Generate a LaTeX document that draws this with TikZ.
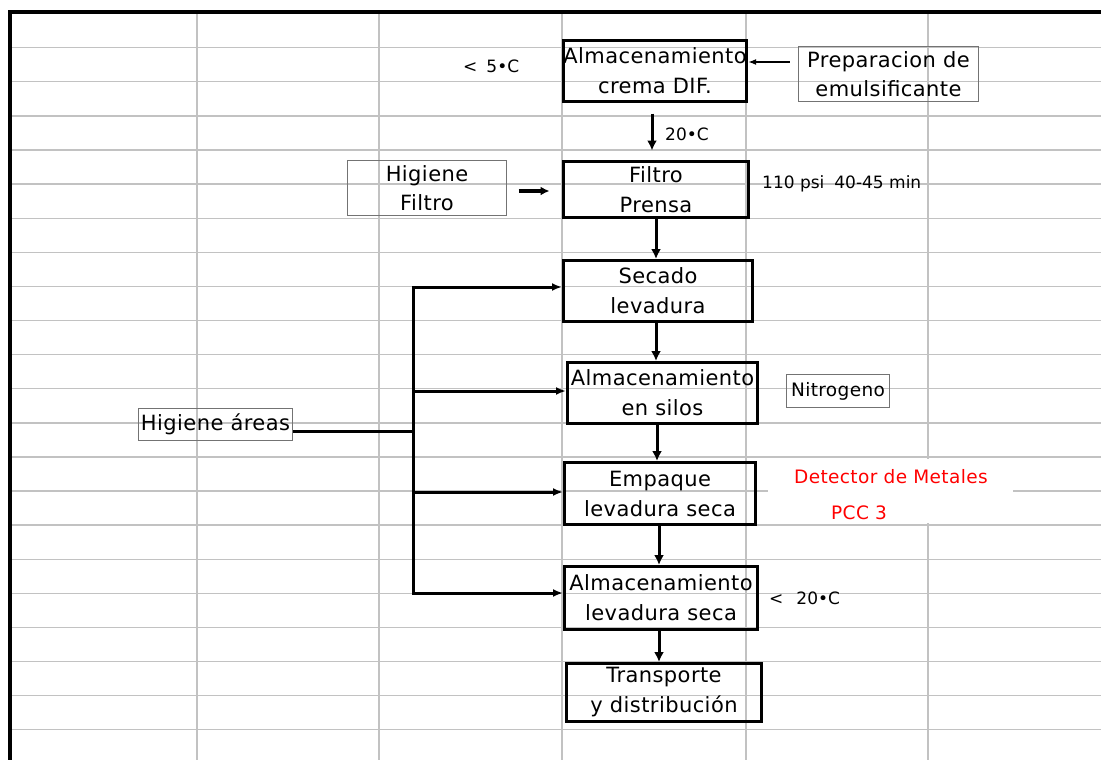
\documentclass[tikz,border=0pt]{standalone}
\usepackage{fontspec}
\setmainfont{DejaVu Sans}
\newfontfamily\boxfont[LetterSpace=2]{DejaVu Sans}
\newfontfamily\notefont{DejaVu Sans}
\newfontfamily\redfont[LetterSpace=2]{DejaVu Sans}
\usetikzlibrary{arrows.meta}

\begin{document}
\begin{tikzpicture}[x=1pt,y=-1pt,
  gridline/.style={draw=black!24, line width=1.4pt},
  stepbox/.style={draw=black, line width=3pt, rectangle, inner sep=0pt, align=center,
    font=\boxfont\fontsize{21}{30}\selectfont},
  sidebox/.style={draw=black!55, line width=1.3pt, rectangle, inner sep=0pt, align=center,
    font=\boxfont\fontsize{21}{29}\selectfont},
  note/.style={inner sep=0pt, anchor=west, font=\notefont\fontsize{17}{22}\selectfont},
  rednote/.style={inner sep=0pt, anchor=west, text=red, font=\redfont\fontsize{18.5}{22}\selectfont},
  flow/.style={line width=3pt, -{Latex[length=10pt,width=10pt]}},
  feed/.style={line width=3pt, line join=miter},
  thinflow/.style={line width=2pt, -{Latex[length=8pt,width=6pt]}},
]
\useasboundingbox (0,0) rectangle (1101,760);

% spreadsheet grid
\foreach \k in {0,...,20}
  \draw[gridline] (12,{47.7+34.1*\k}) -- (1101,{47.7+34.1*\k});
\foreach \c in {197,379,562,746,928}
  \draw[gridline] (\c,14) -- (\c,760);
% window frame
\draw[line width=4pt] (8,12.5) -- (1101,12.5);
\draw[line width=4.5pt] (10,10.5) -- (10,760);

% white cell behind the control point note
\fill[white] (768,459) rectangle (1013,523);

% process steps
\node[stepbox, minimum width=183pt, minimum height=61pt] (alm1) at (655,71) {Almacenamiento\\crema DIF.};
\node[stepbox, minimum width=185pt, minimum height=56pt] (filtro) at (656,189.5) {Filtro\\Prensa};
\node[stepbox, minimum width=189pt, minimum height=61pt] (secado) at (658,291) {Secado\\levadura};
\node[stepbox, minimum width=190pt, minimum height=61pt] (silos) at (662.5,393) {Almacenamiento\\en silos};
\node[stepbox, minimum width=191pt, minimum height=62pt] (empaque) at (660,493.5) {Empaque\\levadura seca};
\node[stepbox, minimum width=193pt, minimum height=63pt] (almseca) at (661,598) {Almacenamiento\\levadura seca};
\node[stepbox, minimum width=195pt, minimum height=58pt] (transp) at (664,692.5) {Transporte\\y distribución};

% auxiliary inputs
\node[sidebox, minimum width=159pt, minimum height=55pt] (hfil) at (427,188) {Higiene\\Filtro};
\node[sidebox, minimum width=180pt, minimum height=55pt] (prep) at (888.5,74) {Preparacion de\\emulsificante};
\node[sidebox, minimum width=103pt, minimum height=33pt, font=\boxfont\fontsize{18.5}{20}\selectfont] (nitro) at (838,391) {Nitrogeno};
\node[sidebox, minimum width=154pt, minimum height=32pt] (hareas) at (215.5,424.5) {Higiene áreas};

% process conditions
\node[note] (t5) at (463,66) {<\hspace{9pt}5•C};
\node[note] (t20a) at (665,134) {20•C};
\node[note] (psi) at (762,184) {110 psi\hspace{10pt}40-45 min};
\node[note] (t20b) at (769,598) {<\hspace{13pt}20•C};
\node[rednote] (det) at (794,477) {Detector de Metales};
\node[rednote] (pcc) at (831,513) {PCC 3};

% main flow
\draw[thinflow, shorten <=8pt] ([yshift=12pt]prep.west) -- ([yshift=12pt]prep.west -| alm1.east);
\draw[flow, shorten <=10.5pt, shorten >=9.5pt] ([xshift=-3pt]alm1.south) -- ([xshift=-3pt]alm1.south |- filtro.north);
\draw[flow, line width=3.5pt, -{Latex[length=9pt,width=9pt]}, shorten <=11.5pt, shorten >=12.5pt]
  ([yshift=-3pt]hfil.east) -- ([yshift=-3pt]hfil.east -| filtro.west);
\draw[flow] (filtro.south) -- (filtro.south |- secado.north);
\draw[flow] ([xshift=-2pt]secado.south) -- ([xshift=-2pt]secado.south |- silos.north);
\draw[flow] ([xshift=-5.5pt]silos.south) -- ([xshift=-5.5pt]silos.south |- empaque.north);
\draw[flow] ([xshift=-1pt]empaque.south) -- ([xshift=-1pt]empaque.south |- almseca.north);
\draw[flow] ([xshift=-2pt]almseca.south) -- ([xshift=-2pt]almseca.south |- transp.north);

% hygiene distribution bus
\coordinate (j0) at (413,431);
\coordinate (j1) at (413,287);
\coordinate (j2) at (413,391);
\coordinate (j3) at (413,492);
\coordinate (j4) at (413,593);
\draw[feed] ([yshift=-6.5pt]hareas.east) -- (j0);
\draw[feed, {Latex[length=10pt,width=8pt]}-{Latex[length=10pt,width=8pt]}]
  (j1 -| secado.west) -- (j1) -- (j4) -- (j4 -| almseca.west);
\draw[feed, -{Latex[length=10pt,width=8pt]}] (j2) -- (j2 -| silos.west);
\draw[feed, -{Latex[length=10pt,width=8pt]}] (j3) -- (j3 -| empaque.west);
\end{tikzpicture}
\end{document}
